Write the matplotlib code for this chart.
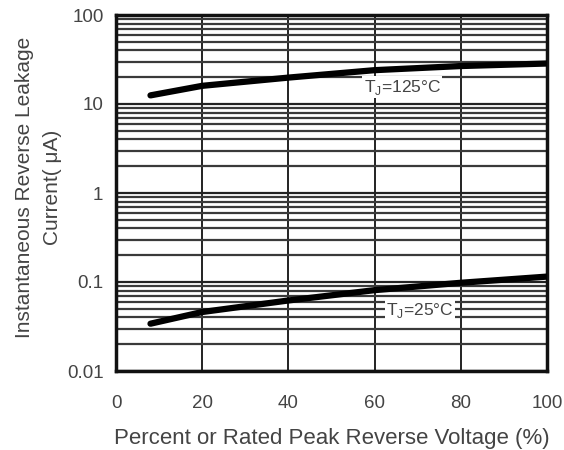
import numpy as np
import matplotlib.pyplot as plt
from matplotlib.ticker import LogLocator, FixedLocator, NullFormatter

# === Data ===
pct = [8, 20, 40, 60, 80, 100]
i_125 = [12.5, 16.0, 19.8, 24.0, 26.7, 28.5]   # µA at Tj=125°C
i_25 = [0.034, 0.046, 0.062, 0.081, 0.098, 0.115]  # µA at Tj=25°C
x_ticks = [0, 20, 40, 60, 80, 100]
y_ticks = [0.01, 0.1, 1, 10, 100]
y_tick_labels = ["0.01", "0.1", "1", "10", "100"]

plt.rcParams['font.family'] = ['Liberation Sans', 'DejaVu Sans']
txt = '#444444'

fig = plt.figure(figsize=(5.64, 4.5), dpi=100)
ax = fig.add_axes([116 / 564, 1 - 371 / 450, 431 / 564, 356 / 450])

ax.set_yscale('log')
ax.set_xlim(0, 100)
ax.set_ylim(0.01, 100)

# grid: vertical every 20 %, horizontal at every 1..9 of each decade
ax.xaxis.set_major_locator(FixedLocator(x_ticks))
ax.yaxis.set_major_locator(FixedLocator(y_ticks))
ax.yaxis.set_minor_locator(LogLocator(base=10, subs=np.arange(2, 10)))
ax.yaxis.set_minor_formatter(NullFormatter())
ax.set_yticklabels(y_tick_labels)
ax.grid(True, which='major', axis='x', color='#111111', lw=1.3)
ax.grid(True, which='major', axis='y', color='#222222', lw=1.6)
ax.grid(True, which='minor', axis='y', color='#3a3a3a', lw=1.6)
ax.tick_params(which='both', length=0)
ax.tick_params(axis='x', labelsize=13.5, labelcolor=txt, pad=17)
ax.tick_params(axis='y', labelsize=13.5, labelcolor=txt, pad=9)
for s in ax.spines.values():
    s.set_linewidth(2.5)
    s.set_color('#111111')

# curves
ax.plot(pct, i_125, color='black', lw=4.5, solid_capstyle='round', zorder=3)
ax.plot(pct, i_25, color='black', lw=4.5, solid_capstyle='round', zorder=3)

box = dict(facecolor='white', edgecolor='none', pad=1.0)
ax.text(66.4, 15.5, r"T$_\mathregular{J}$=125°C", fontsize=12.5, color=txt,
        ha='center', va='center', bbox=box, zorder=4)
ax.text(70.5, 0.048, r"T$_\mathregular{J}$=25°C", fontsize=12.5, color=txt,
        ha='center', va='center', bbox=box, zorder=4)

ax.set_xlabel("Percent or Rated Peak Reverse Voltage (%)", fontsize=16,
              color=txt, labelpad=12)
fig.text(38.5 / 564, 1 - 187 / 450, "Instantaneous Reverse Leakage\nCurrent( μA)",
         fontsize=15, color=txt, rotation=90, ha='center', va='center',
         multialignment='center', linespacing=1.55)

fig.savefig("out.png", dpi=100)
